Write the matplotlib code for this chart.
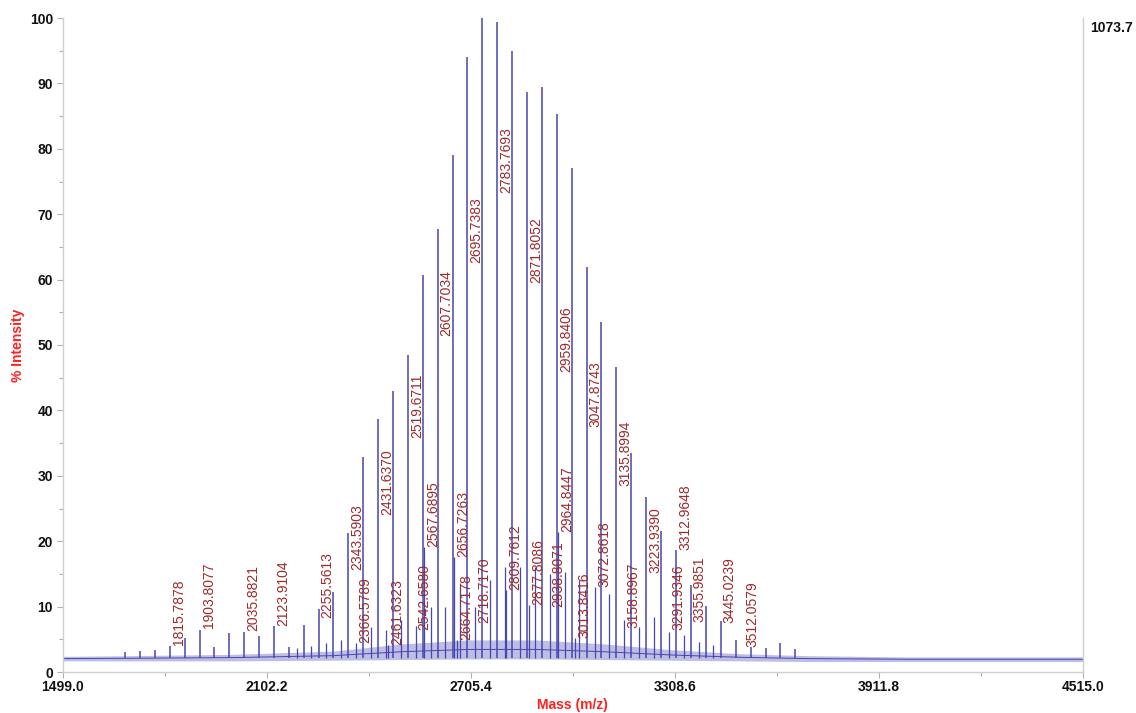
import matplotlib
matplotlib.use("Agg")
import matplotlib.pyplot as plt
from matplotlib.ticker import FixedLocator, FormatStrFormatter

plt.rcParams['font.family'] = ['Liberation Sans', 'DejaVu Sans']

# ---- data ----
# main series (44 Da spacing)
main_mz = [1683.7, 1727.7, 1771.8, 1815.79, 1859.8, 1903.81, 1947.8, 1991.8,
           2035.88, 2079.9, 2123.91, 2167.9, 2211.5, 2255.56, 2299.6, 2343.59,
           2387.6, 2431.64, 2475.65, 2519.67, 2563.69, 2607.70, 2651.72, 2695.74,
           2739.75, 2783.77, 2827.79, 2871.81, 2915.82, 2959.84, 3003.86, 3047.87,
           3091.89, 3135.90, 3179.92, 3223.94, 3267.95, 3312.0, 3355.99, 3400.0,
           3445.02, 3489.0, 3533.1, 3577.1, 3621.1, 3665.1]
main_int = [3.0, 3.2, 3.4, 4.0, 5.2, 6.4, 3.8, 5.9,
            6.1, 5.5, 7.0, 3.8, 7.2, 9.7, 12.3, 21.3,
            32.9, 38.7, 43.0, 48.5, 60.7, 67.7, 79.0, 94.0,
            100.0, 99.4, 95.0, 88.7, 89.4, 85.3, 77.1, 61.9,
            53.5, 46.6, 33.5, 26.8, 21.6, 18.7, 13.3, 10.1,
            7.8, 4.9, 3.8, 3.6, 4.4, 3.5]

# adduct series (+23 Da)
adduct_mz = [2190.5, 2234.5, 2278.6, 2322.6, 2366.58, 2410.6, 2454.6, 2498.7,
             2542.66, 2586.7, 2630.7, 2674.7, 2718.72, 2762.8, 2806.8, 2850.8,
             2894.8, 2938.81, 2982.9, 3026.9, 3114.9, 3158.90, 3202.9, 3246.9,
             3291.93, 3335.0, 3379.0, 3423.0]
adduct_int = [3.6, 4.0, 4.4, 4.9, 4.4, 6.9, 6.4, 8.0,
              7.0, 10.0, 10.0, 13.6, 10.0, 14.0, 16.0, 16.0,
              16.0, 15.0, 15.3, 14.0, 12.0, 8.0, 6.9, 8.4,
              6.1, 5.6, 4.6, 4.1]

# other picked peaks
other_mz = [2461.63, 2567.69, 2656.73, 2664.72, 2809.76, 2877.81, 2964.84,
            3013.84, 3072.86]
other_int = [4.1, 19.1, 17.6, 4.9, 12.5, 10.2, 21.4, 5.2, 13.0]

# peak labels
label_mz = [1815.7878, 1903.8077, 2035.8821, 2123.9104, 2255.5613, 2343.5903,
            2366.5789, 2431.6370, 2461.6323, 2519.6711, 2542.6580, 2567.6895,
            2607.7034, 2656.7263, 2664.7178, 2695.7383, 2718.7170, 2783.7693,
            2809.7612, 2871.8052, 2877.8086, 2938.8071, 2959.8406, 2964.8447,
            3013.8416, 3047.8743, 3072.8618, 3135.8994, 3158.8967, 3223.9390,
            3291.9346, 3312.9648, 3355.9851, 3445.0239, 3512.0579]
label_y = [4.1, 6.7, 6.3, 7.0, 8.3, 15.6,
           4.4, 24.0, 4.1, 35.8, 6.4, 19.1,
           51.4, 17.6, 4.9, 62.5, 7.5, 73.2,
           12.5, 59.5, 10.2, 9.9, 45.9, 21.4,
           5.2, 37.5, 13.0, 28.4, 6.7, 15.1,
           6.4, 18.7, 7.6, 7.5, 3.8]

# baseline noise band
noise_mz = [1499, 1700, 2000, 2300, 2500, 2700, 2900, 3100, 3300, 3500, 3700, 4000, 4515]
noise_lo = [1.7, 1.7, 1.7, 1.8, 1.9, 2.0, 2.0, 1.9, 1.8, 1.7, 1.6, 1.6, 1.6]
noise_hi = [2.4, 2.5, 2.7, 3.2, 4.3, 4.9, 4.9, 4.3, 3.4, 2.8, 2.5, 2.3, 2.3]
baseline = 2.1

x_ticks = [1499.0, 2102.2, 2705.4, 3308.6, 3911.8, 4515.0]
y_ticks = [0, 10, 20, 30, 40, 50, 60, 70, 80, 90, 100]
max_counts = "1073.7"

# ---- drawing ----
W, H = 1136, 713
fig = plt.figure(figsize=(W / 100, H / 100), dpi=100)
ax = fig.add_axes([62.7 / W, 1 - 672 / H, (1082.7 - 62.7) / W, (672 - 18) / H])

peak_col = '#4646ae'
ax.fill_between(noise_mz, noise_lo, noise_hi, color='#7070c4', alpha=0.45, lw=0)
ax.plot(noise_mz, [(a + b) / 2 for a, b in zip(noise_lo, noise_hi)], color=peak_col, lw=0.7)
ax.vlines(adduct_mz, baseline, adduct_int, color=peak_col, lw=0.9)
ax.vlines(other_mz, baseline, other_int, color=peak_col, lw=0.9)
ax.vlines(main_mz, baseline, main_int, color=peak_col, lw=1.1)

for mz, yv in zip(label_mz, label_y):
    ax.annotate(f"{mz:.4f}", xy=(mz, yv), xytext=(6.5, 0), textcoords='offset points',
                rotation=90, ha='center', va='bottom', fontsize=10, color='#a02828')

ax.set_xlim(1499.0, 4515.0)
ax.set_ylim(0, 100)
ax.xaxis.set_major_locator(FixedLocator(x_ticks))
ax.xaxis.set_minor_locator(FixedLocator([(a + b) / 2 for a, b in zip(x_ticks[:-1], x_ticks[1:])]))
ax.xaxis.set_major_formatter(FormatStrFormatter('%.1f'))
ax.yaxis.set_major_locator(FixedLocator(y_ticks))
ax.yaxis.set_minor_locator(FixedLocator([v + 5 for v in y_ticks[:-1]]))

for s in ['left', 'bottom', 'right']:
    ax.spines[s].set_color('#d0d0d0')
    ax.spines[s].set_linewidth(1.0)
ax.spines['top'].set_visible(False)
ax.tick_params(which='both', direction='out', color='#b0b0b0', width=0.8)
ax.tick_params(which='major', length=4)
ax.tick_params(which='minor', length=3)
ax.tick_params(axis='x', which='major', pad=2)
ax.tick_params(axis='y', which='major', pad=3)
for lab in ax.get_xticklabels() + ax.get_yticklabels():
    lab.set_fontweight('bold')
    lab.set_fontsize(10)
    lab.set_color('#111111')

fig.text(18 / W, 1 - 345 / H, '% Intensity', rotation=90, ha='center', va='center',
         color='#ff2020', fontweight='bold', fontsize=10)
fig.text(572 / W, 1 - 705 / H, 'Mass (m/z)', ha='center', va='center',
         color='#ff2020', fontweight='bold', fontsize=10)
fig.text(1090 / W, 1 - 28 / H, max_counts, ha='left', va='center',
         color='#111111', fontweight='bold', fontsize=10)

fig.savefig('out.png', dpi=100)
